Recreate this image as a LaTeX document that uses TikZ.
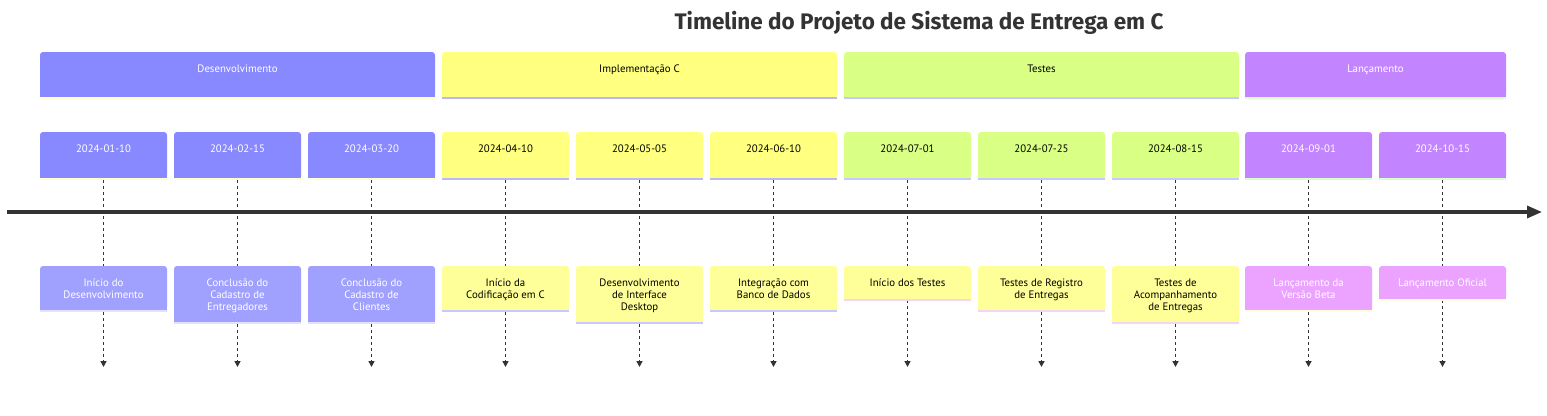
\documentclass[tikz,border=0pt]{standalone}
\usepackage{fontspec}
\setmainfont{PT Sans}
\newfontfamily\titlefont{Fira Sans}
\usetikzlibrary{arrows.meta}
\definecolor{blueS}{HTML}{8888FF}
\definecolor{blueE}{HTML}{A0A0FF}
\definecolor{blueSS}{HTML}{FFFFD0}
\definecolor{blueES}{HTML}{E2E2FF}
\definecolor{yelS}{HTML}{FFFF80}
\definecolor{yelSS}{HTML}{B8B8FF}
\definecolor{yelE}{HTML}{FFFF99}
\definecolor{yelES}{HTML}{C8C8FF}
\definecolor{grnS}{HTML}{D9FF85}
\definecolor{grnSS}{HTML}{C8C8FF}
\definecolor{tstES}{HTML}{F5D5F5}
\definecolor{purS}{HTML}{C285FF}
\definecolor{purSS}{HTML}{D9FFCC}
\definecolor{pinkE}{HTML}{EBA3FF}
\definecolor{pinkES}{HTML}{FFFFE0}
\definecolor{ink}{HTML}{333333}
\tikzset{
  boxshape/.style={draw=none, rounded corners=3pt, inner sep=0pt, outer sep=0pt},
  boxtext/.style={font=\fontsize{10.8}{12}\selectfont, align=center, inner sep=0pt},
  conn/.style={draw=ink, line width=1.6pt, dash pattern=on 3pt off 3pt, -{Triangle[length=6pt,width=6pt]}, shorten <=2pt},
  axisline/.style={draw=ink, line width=3.2pt, -{Triangle[length=15pt,width=12pt]}},
  titletext/.style={font=\titlefont\fontsize{22.5}{26}\selectfont\bfseries, text=ink, inner sep=0pt}
}
\newcommand{\tlbox}[9]{%
  \node[boxshape, fill=#6, minimum width=#4, minimum height=#5, anchor=north west] (#1) at (#2,#3) {};
  \fill[#6] ([yshift=5pt]#1.south west) rectangle (#1.south east);
  \fill[#7] (#1.south west) rectangle ([yshift=-2pt]#1.south east);
  \node[boxtext, text=#8, anchor=north] (#1t) at ([yshift=-10pt]#1.north) {\rule{0pt}{10pt}#9};
}
\begin{document}
\begin{tikzpicture}[x=1pt,y=-1pt]
\useasboundingbox[fill=white] (0,0) rectangle (1547,415);
\node[titletext] (title) at (919,23) {Timeline do Projeto de Sistema de Entrega em C};
% sections
\tlbox{s1}{40}{52}{395}{45}{blueS}{blueSS}{white}{Desenvolvimento}
\tlbox{s2}{442}{52}{395}{45}{yelS}{yelSS}{black}{Implementação C}
\tlbox{s3}{844}{52}{395}{45}{grnS}{grnSS}{black}{Testes}
\tlbox{s4}{1245}{52}{261}{45}{purS}{purSS}{white}{Lançamento}
% dates
\tlbox{d1}{40}{132}{127}{46}{blueS}{blueSS}{white}{2024-01-10}
\tlbox{d2}{174}{132}{127}{46}{blueS}{blueSS}{white}{2024-02-15}
\tlbox{d3}{308}{132}{127}{46}{blueS}{blueSS}{white}{2024-03-20}
\tlbox{d4}{442}{132}{127}{46}{yelS}{yelSS}{black}{2024-04-10}
\tlbox{d5}{576}{132}{127}{46}{yelS}{yelSS}{black}{2024-05-05}
\tlbox{d6}{710}{132}{127}{46}{yelS}{yelSS}{black}{2024-06-10}
\tlbox{d7}{844}{132}{127}{46}{grnS}{grnSS}{black}{2024-07-01}
\tlbox{d8}{978}{132}{127}{46}{grnS}{grnSS}{black}{2024-07-25}
\tlbox{d9}{1112}{132}{127}{46}{grnS}{grnSS}{black}{2024-08-15}
\tlbox{d10}{1245}{132}{127}{46}{purS}{purSS}{white}{2024-09-01}
\tlbox{d11}{1379}{132}{127}{46}{purS}{purSS}{white}{2024-10-15}
% connector ends
\foreach \i/\x in {1/103.5,2/237.5,3/371.5,4/505.5,5/639.5,6/773.5,7/907.5,8/1041.5,9/1175.5,10/1308.5,11/1442.5}{
  \coordinate (a\i) at (\x,367);
  \draw[conn] (d\i.south) -- (a\i);
}
% axis
\coordinate (axL) at (7,212);
\coordinate (axR) at (1542,212);
\draw[axisline] (axL) -- (axR);
% events
\tlbox{e1}{40}{266}{127}{44}{blueE}{blueES}{white}{Início do\\Desenvolvimento}
\tlbox{e2}{174}{266}{127}{56}{blueE}{blueES}{white}{Conclusão do\\Cadastro de\\Entregadores}
\tlbox{e3}{308}{266}{127}{56}{blueE}{blueES}{white}{Conclusão do\\Cadastro de\\Clientes}
\tlbox{e4}{442}{266}{127}{44}{yelE}{yelES}{black}{Início da\\Codificação em C}
\tlbox{e5}{576}{266}{127}{56}{yelE}{yelES}{black}{Desenvolvimento\\de Interface\\Desktop}
\tlbox{e6}{710}{266}{127}{44}{yelE}{yelES}{black}{Integração com\\Banco de Dados}
\tlbox{e7}{844}{266}{127}{33}{yelE}{tstES}{black}{Início dos Testes}
\tlbox{e8}{978}{266}{127}{44}{yelE}{tstES}{black}{Testes de Registro\\de Entregas}
\tlbox{e9}{1112}{266}{127}{56}{yelE}{tstES}{black}{Testes de\\Acompanhamento\\de Entregas}
\tlbox{e10}{1245}{266}{127}{44}{pinkE}{pinkES}{white}{Lançamento da\\Versão Beta}
\tlbox{e11}{1379}{266}{127}{33}{pinkE}{pinkES}{white}{Lançamento Oficial}
\end{tikzpicture}
\end{document}
